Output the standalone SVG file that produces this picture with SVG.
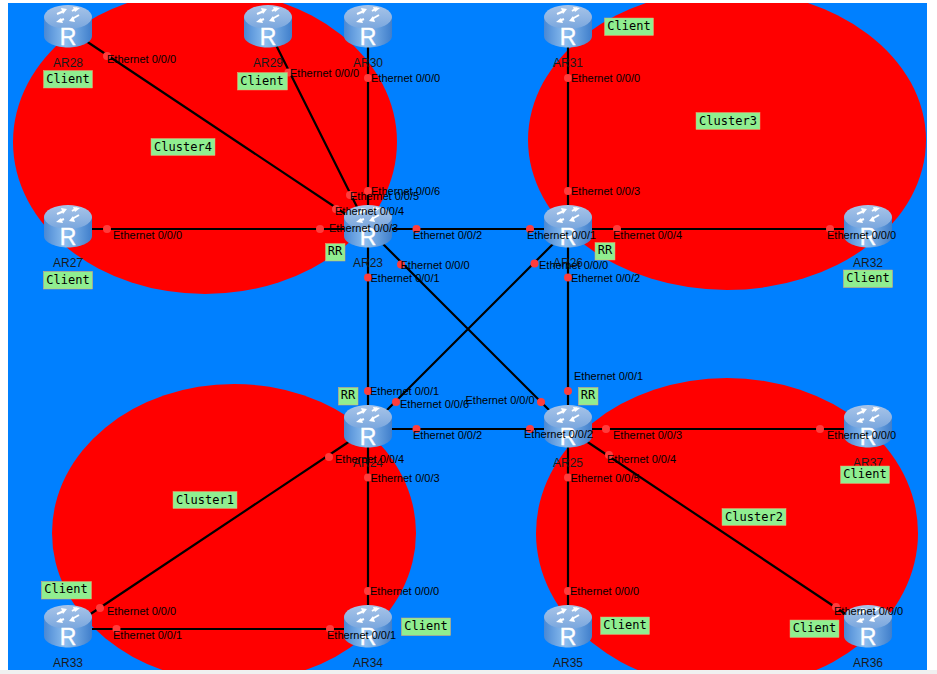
<svg xmlns="http://www.w3.org/2000/svg" xmlns:xlink="http://www.w3.org/1999/xlink" width="937" height="674" viewBox="0 0 937 674">
<style>
text{font-family:"Liberation Sans",Arial,sans-serif;font-size:11px;fill:#000}
.n{font-size:12px;fill:#1a1a1a;text-anchor:middle}
.t{font-family:"DejaVu Sans Mono","Liberation Mono",monospace;font-size:12px;text-anchor:middle}
.b{fill:#90ee90;stroke:#f0a070;stroke-width:.5}
.c{fill:#f00}
.l{stroke:#000;stroke-width:2.2;fill:none}
.d{fill:#ff3c3c}
.rt{font-size:23px;fill:#fff;stroke:#fff;stroke-width:.4;text-anchor:middle}
.ar{stroke:#fff;stroke-width:2;fill:none}
</style>
<defs>
<linearGradient id="side" x1="0" x2="1" y1="0" y2="0"><stop offset="0" stop-color="#4a88d4"/><stop offset=".45" stop-color="#8cbeef"/><stop offset="1" stop-color="#3f7ecb"/></linearGradient>
<linearGradient id="top" x1="0" x2="0" y1="0" y2="1"><stop offset="0" stop-color="#a8c4e8"/><stop offset="1" stop-color="#7aa7de"/></linearGradient>
<clipPath id="bg"><rect x="8" y="3" width="919" height="667"/></clipPath>
<g id="router">
<path d="M-24-12V7C-24 14-11 18.500 0 18.500S24 14 24 7V-12Z" fill="url(#side)"/>
<ellipse cx="0" cy="-12" rx="24" ry="12" fill="url(#top)"/>
<path class="ar" d="M-11-15L-4-18M11-14L4-10M4-18L9-21M-4-10L-9-8"/>
<path d="M-1-20L-7-21-5-15ZM1-8L7-7 5-13ZM12-21L5-22 7-17ZM-12-7L-5-6-7-11Z" fill="#fff"/>
<text class="rt" x="0" y="15.500">R</text>
</g>
</defs>
<rect width="937" height="674" fill="#fff"/>
<rect y="670" width="937" height="4" fill="#f0f0f0"/>
<rect x="8" y="3" width="919" height="667" fill="#0080ff"/>
<g clip-path="url(#bg)">
<ellipse class="c" cx="205" cy="142" rx="192" ry="152"/>
<ellipse class="c" cx="727" cy="140" rx="199" ry="150"/>
<ellipse class="c" cx="234" cy="533" rx="182" ry="149"/>
<ellipse class="c" cx="727" cy="533" rx="191" ry="155"/>
</g>
<g id="connectors">
<path class="l" d="M68 29L368 229M268 29L368 229M368 29V429M568 29V429M68 229H368M368 229H568M568 229H868M368 229L568 429M568 229L368 429M368 429H568M568 429H868M568 429L868 629M568 429V629M368 429V629M368 429L68 629M68 629H368"/>
<g class="d">
<circle cx="107" cy="56" r="4"/><circle cx="288.500" cy="72.500" r="4"/><circle cx="368" cy="78" r="4"/><circle cx="568" cy="78" r="4"/>
<circle cx="368" cy="191" r="4"/><circle cx="350" cy="195" r="4"/><circle cx="336" cy="209" r="4"/><circle cx="320" cy="229" r="4"/>
<circle cx="107" cy="229" r="4"/><circle cx="416.500" cy="229" r="4"/><circle cx="530" cy="229" r="4"/><circle cx="568" cy="191" r="4"/>
<circle cx="617" cy="229" r="4"/><circle cx="830" cy="229" r="4"/><circle cx="401" cy="264.500" r="4"/><circle cx="534.500" cy="263.500" r="4"/>
<circle cx="368" cy="277.500" r="4"/><circle cx="568" cy="277.500" r="4"/>
<circle cx="368" cy="391" r="4"/><circle cx="396" cy="402" r="4"/><circle cx="541" cy="402" r="4"/><circle cx="568" cy="391" r="4"/>
<circle cx="416.500" cy="429" r="4"/><circle cx="530" cy="429" r="4"/><circle cx="606" cy="429" r="4"/><circle cx="820" cy="429" r="4"/>
<circle cx="329" cy="457" r="4"/><circle cx="368" cy="477.500" r="4"/><circle cx="568" cy="477.500" r="4"/><circle cx="609" cy="455" r="4"/>
<circle cx="368" cy="591" r="4"/><circle cx="568" cy="591" r="4"/><circle cx="100" cy="608" r="4"/><circle cx="116.500" cy="629" r="4"/><circle cx="330" cy="629" r="4"/><circle cx="836" cy="607" r="4"/>
</g>
</g>
<g id="AR28"><use xlink:href="#router" x="68" y="29"/><text class="n" x="68" y="67">AR28</text></g>
<g id="AR29"><use xlink:href="#router" x="268" y="29"/><text class="n" x="268" y="67">AR29</text></g>
<g id="AR30"><use xlink:href="#router" x="368" y="29"/><text class="n" x="368" y="67">AR30</text></g>
<g id="AR31"><use xlink:href="#router" x="568" y="29"/><text class="n" x="568" y="67">AR31</text></g>
<g id="AR27"><use xlink:href="#router" x="68" y="229"/><text class="n" x="68" y="267">AR27</text></g>
<g id="AR23"><use xlink:href="#router" x="368" y="229"/><text class="n" x="368" y="267">AR23</text></g>
<g id="AR26"><use xlink:href="#router" x="568" y="229"/><text class="n" x="568" y="267">AR26</text></g>
<g id="AR32"><use xlink:href="#router" x="868" y="229"/><text class="n" x="868" y="267">AR32</text></g>
<g id="AR24"><use xlink:href="#router" x="368" y="429"/><text class="n" x="368" y="467">AR24</text></g>
<g id="AR25"><use xlink:href="#router" x="568" y="429"/><text class="n" x="568" y="467">AR25</text></g>
<g id="AR37"><use xlink:href="#router" x="868" y="429"/><text class="n" x="868" y="467">AR37</text></g>
<g id="AR33"><use xlink:href="#router" x="68" y="629"/><text class="n" x="68" y="667">AR33</text></g>
<g id="AR34"><use xlink:href="#router" x="368" y="629"/><text class="n" x="368" y="667">AR34</text></g>
<g id="AR35"><use xlink:href="#router" x="568" y="629"/><text class="n" x="568" y="667">AR35</text></g>
<g id="AR36"><use xlink:href="#router" x="868" y="629"/><text class="n" x="868" y="667">AR36</text></g>
<g id="port-labels">
<text x="107" y="63">Ethernet 0/0/0</text>
<text x="290" y="77">Ethernet 0/0/0</text>
<text x="371" y="82">Ethernet 0/0/0</text>
<text x="571" y="82">Ethernet 0/0/0</text>
<text x="371" y="195">Ethernet 0/0/6</text>
<text x="350" y="200">Ethernet 0/0/5</text>
<text x="335" y="215">Ethernet 0/0/4</text>
<text x="329" y="232">Ethernet 0/0/3</text>
<text x="113" y="239">Ethernet 0/0/0</text>
<text x="413" y="239">Ethernet 0/0/2</text>
<text x="527" y="239">Ethernet 0/0/1</text>
<text x="571" y="195">Ethernet 0/0/3</text>
<text x="613" y="239">Ethernet 0/0/4</text>
<text x="827" y="239">Ethernet 0/0/0</text>
<text x="400.500" y="268.500">Ethernet 0/0/0</text>
<text x="539" y="268.500">Ethernet 0/0/0</text>
<text x="370.500" y="282">Ethernet 0/0/1</text>
<text x="571" y="282">Ethernet 0/0/2</text>
<text x="574" y="379.500">Ethernet 0/0/1</text>
<text x="370" y="395">Ethernet 0/0/1</text>
<text x="400" y="407.500">Ethernet 0/0/6</text>
<text x="465.500" y="403.500">Ethernet 0/0/0</text>
<text x="413" y="438.500">Ethernet 0/0/2</text>
<text x="524" y="437.500">Ethernet 0/0/2</text>
<text x="613" y="438.500">Ethernet 0/0/3</text>
<text x="827" y="438.500">Ethernet 0/0/0</text>
<text x="335" y="462.500">Ethernet 0/0/4</text>
<text x="607" y="462.500">Ethernet 0/0/4</text>
<text x="370.500" y="482">Ethernet 0/0/3</text>
<text x="570.500" y="482">Ethernet 0/0/5</text>
<text x="370" y="595">Ethernet 0/0/0</text>
<text x="570" y="595">Ethernet 0/0/0</text>
<text x="107" y="615">Ethernet 0/0/0</text>
<text x="113" y="639">Ethernet 0/0/1</text>
<text x="327" y="639">Ethernet 0/0/1</text>
<text x="834" y="614.500">Ethernet 0/0/0</text>
</g>
<g id="tags">
<g id="tag-c28"><rect class="b" x="43.500" y="70.500" width="49" height="17.500"/><text class="t" x="68" y="82.500">Client</text></g>
<g id="tag-c29"><rect class="b" x="237.500" y="72.500" width="50" height="17.500"/><text class="t" x="262" y="84.500">Client</text></g>
<g id="tag-c31"><rect class="b" x="604.500" y="18" width="49" height="17.500"/><text class="t" x="629" y="30">Client</text></g>
<g id="tag-c27"><rect class="b" x="43.500" y="271.500" width="49" height="17.500"/><text class="t" x="68" y="283.500">Client</text></g>
<g id="tag-c32"><rect class="b" x="843.500" y="270" width="49" height="17.500"/><text class="t" x="868" y="282">Client</text></g>
<g id="tag-c37"><rect class="b" x="840.500" y="466" width="49" height="17.500"/><text class="t" x="865" y="478">Client</text></g>
<g id="tag-c33"><rect class="b" x="41.500" y="581.500" width="50" height="17.500"/><text class="t" x="66" y="593">Client</text></g>
<g id="tag-c34"><rect class="b" x="401.500" y="618" width="49" height="17.500"/><text class="t" x="426" y="630">Client</text></g>
<g id="tag-c35"><rect class="b" x="600.500" y="617" width="49" height="17.500"/><text class="t" x="625" y="629">Client</text></g>
<g id="tag-c36"><rect class="b" x="790" y="620" width="49" height="17.500"/><text class="t" x="814.500" y="632">Client</text></g>
<g id="tag-rr23"><rect class="b" x="325.500" y="243.500" width="19.500" height="17.500"/><text class="t" x="335" y="255">RR</text></g>
<g id="tag-rr26"><rect class="b" x="595" y="242.500" width="20" height="17.500"/><text class="t" x="605" y="254">RR</text></g>
<g id="tag-rr24"><rect class="b" x="338.500" y="387.500" width="19.500" height="17.500"/><text class="t" x="348" y="399">RR</text></g>
<g id="tag-rr25"><rect class="b" x="578.500" y="387.500" width="19.500" height="17.500"/><text class="t" x="588" y="399">RR</text></g>
<g id="tag-cl4"><rect class="b" x="151" y="138.500" width="64" height="17"/><text class="t" x="183" y="151">Cluster4</text></g>
<g id="tag-cl3"><rect class="b" x="696" y="112.500" width="64" height="17"/><text class="t" x="728" y="125">Cluster3</text></g>
<g id="tag-cl1"><rect class="b" x="173" y="491.500" width="64" height="17"/><text class="t" x="205" y="504">Cluster1</text></g>
<g id="tag-cl2"><rect class="b" x="722" y="508.500" width="64" height="17"/><text class="t" x="754" y="521">Cluster2</text></g>
</g>
</svg>
